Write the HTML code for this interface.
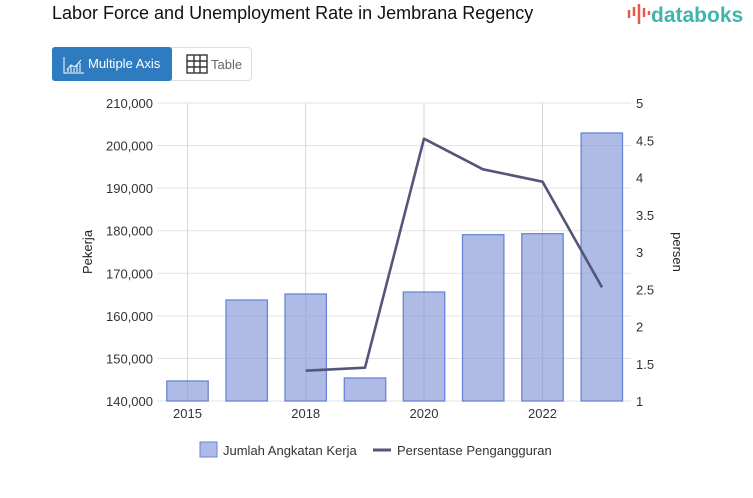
<!DOCTYPE html>
<html><head><meta charset="utf-8"><style>
body{margin:0;width:753px;height:498px;background:#fff;font-family:"Liberation Sans",sans-serif;overflow:hidden;position:relative}
.t{position:absolute;left:52px;top:3px;font-size:18px;color:#111}
.logo{position:absolute;left:627px;top:2px;font-size:21px;color:#3fb5ae;font-weight:bold;white-space:nowrap}
.btns{position:absolute;left:52px;top:47px;width:200px;height:34px;border:1px solid #ddd;border-radius:4px;box-sizing:border-box}
.b1{position:absolute;left:0;top:0;width:120px;height:34px;background:#2f7bbf;border-radius:3px;color:#fff;font-size:13px;line-height:34px;box-sizing:border-box;padding-left:36px;margin:-1px}
.b2{position:absolute;left:158px;top:0;font-size:13px;color:#666;line-height:33px}
</style></head><body>
<div class="t">Labor Force and Unemployment Rate in Jembrana Regency</div>
<div class="logo"><svg width="24" height="24" style="vertical-align:-4px"><path d="M2 8V16M7 5V14M12 2V22M17 6V15M22 9V13" stroke="#e8584c" stroke-width="2.5"/></svg>databoks</div>
<div class="btns"><div class="b1">Multiple Axis</div>
<svg style="position:absolute;left:10px;top:8px" width="22" height="18"><path d="M1 1V17H21" stroke="#fff" fill="none"/><path d="M4 14L8 9L12 11L18 4" stroke="#fff" fill="none"/><path d="M5 16V12M8 16V10M11 16V12M14 16V9M17 16V7" stroke="#fff"/></svg>
<svg style="position:absolute;left:133px;top:6px" width="22" height="20"><rect x="1" y="1" width="20" height="18" fill="none" stroke="#333" stroke-width="1.4"/><path d="M1 7H21M1 13H21M8 1V19M14 1V19" stroke="#333" stroke-width="1.4"/></svg>
<div class="b2">Table</div></div>
<svg width="753" height="498" style="position:absolute;left:0;top:0" font-family="Liberation Sans, sans-serif">
<g stroke="#e3e3e3" stroke-width="1">
<line x1="157" x2="631" y1="103" y2="103"/><line x1="157" x2="631" y1="145.6" y2="145.6"/><line x1="157" x2="631" y1="188.1" y2="188.1"/><line x1="157" x2="631" y1="230.7" y2="230.7"/><line x1="157" x2="631" y1="273.3" y2="273.3"/><line x1="157" x2="631" y1="315.9" y2="315.9"/><line x1="157" x2="631" y1="358.4" y2="358.4"/><line x1="157" x2="631" y1="401" y2="401"/>
</g>
<g stroke="#d6d6d6"><line x1="187.5" x2="187.5" y1="103" y2="401"/><line x1="305.7" x2="305.7" y1="103" y2="401"/><line x1="424" x2="424" y1="103" y2="401"/><line x1="542.5" x2="542.5" y1="103" y2="401"/></g>
<g fill="rgba(130,150,215,0.65)" stroke="#6a84d6" stroke-width="1.3">
<rect x="166.8" y="381" width="41.4" height="20"/>
<rect x="226" y="300" width="41.4" height="101"/>
<rect x="285" y="294" width="41.4" height="107"/>
<rect x="344.3" y="378" width="41.4" height="23"/>
<rect x="403.3" y="292" width="41.4" height="109"/>
<rect x="462.5" y="234.7" width="41.4" height="166.3"/>
<rect x="521.8" y="233.7" width="41.4" height="167.3"/>
<rect x="581.1" y="133" width="41.4" height="268"/>
</g>
<polyline points="305.7,370.7 365,367.7 424,138.7 483,169.3 542.5,181.7 602,287.3" fill="none" stroke="#55557a" stroke-width="2.6" stroke-linejoin="round"/>
<g font-size="13" fill="#333" text-anchor="end">
<text x="153" y="108">210,000</text><text x="153" y="150.6">200,000</text><text x="153" y="193.1">190,000</text><text x="153" y="235.7">180,000</text><text x="153" y="278.3">170,000</text><text x="153" y="320.9">160,000</text><text x="153" y="363.4">150,000</text><text x="153" y="406">140,000</text>
</g>
<g font-size="13" fill="#333">
<text x="636" y="108">5</text><text x="636" y="145.3">4.5</text><text x="636" y="182.5">4</text><text x="636" y="219.8">3.5</text><text x="636" y="257">3</text><text x="636" y="294.3">2.5</text><text x="636" y="331.5">2</text><text x="636" y="368.8">1.5</text><text x="636" y="406">1</text>
</g>
<g font-size="13" fill="#333" text-anchor="middle">
<text x="187.5" y="418">2015</text><text x="305.7" y="418">2018</text><text x="424" y="418">2020</text><text x="542.5" y="418">2022</text>
</g>
<text transform="translate(92,252) rotate(-90)" font-size="13" fill="#222" text-anchor="middle">Pekerja</text>
<text transform="translate(673,252) rotate(90)" font-size="13" fill="#222" text-anchor="middle">persen</text>
<rect x="200" y="442" width="17" height="15" fill="rgba(130,150,215,0.65)" stroke="#6a84d6"/>
<text x="223" y="455" font-size="13" fill="#333">Jumlah Angkatan Kerja</text>
<line x1="373" x2="391" y1="450" y2="450" stroke="#55557a" stroke-width="3"/>
<text x="397" y="455" font-size="13" fill="#333">Persentase Pengangguran</text>
</svg>
</body></html>
